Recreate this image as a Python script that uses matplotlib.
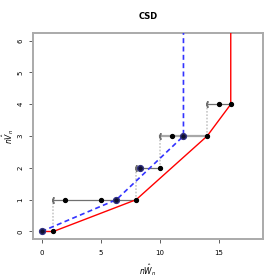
import matplotlib
matplotlib.use("Agg")
import matplotlib.pyplot as plt

# data
red_x = [0, 1, 8, 14, 16, 16]
red_y = [0, 0, 1, 3, 4, 10]
blue_x = [0, 6.33, 12, 12]
blue_y = [0, 1, 3, 10]
bar_y = [1, 2, 3, 4]
bar_lo = [1, 8, 10, 14]
bar_hi = [8, 10, 14, 16]
pts_x = [0, 1, 2, 5, 6.33, 8, 8.33, 10, 11, 12, 14, 15, 16]
pts_y = [0, 0, 1, 1, 1, 1, 2, 2, 3, 3, 3, 4, 4]
big_x = [0, 6.33, 8.33, 12]
big_y = [0, 1, 2, 3]
xticks = [0, 5, 10, 15]
yticks = [0, 1, 2, 3, 4, 5, 6]

fig = plt.figure(figsize=(2.8, 2.8), dpi=100)
ax = fig.add_axes([0.118, 0.146, 0.821, 0.736])

for yv, lo, hi in zip(bar_y, bar_lo, bar_hi):
    ax.plot([lo, lo], [yv - 1, yv], color="#c8c8c8", lw=1.2, ls=(0, (1, 1)), zorder=1)
    lw = 1.6 if yv == 3 else 0.9
    col = "#a8a8a8" if yv == 3 else "#707070"
    ax.plot([lo, hi], [yv, yv], color=col, lw=lw, zorder=2)
    ax.plot([lo], [yv], marker=r"$($", color="#707070", ms=4, zorder=2)

ax.plot(red_x, red_y, color="#ff0000", lw=1.0, zorder=3)
ax.plot(blue_x, blue_y, color="#3333ff", lw=1.2, ls=(0, (3, 2)), zorder=4)
ax.plot(pts_x, pts_y, "o", color="black", ms=2.8, zorder=5)
ax.plot(big_x, big_y, "o", color="#101030", mec="#303080", ms=4.2, zorder=6)

ax.set_xlim(-0.72, 18.72)
ax.set_ylim(-0.24, 6.24)
ax.set_xticks(xticks)
ax.set_yticks(yticks)
ax.tick_params(labelsize=5, length=3, width=0.6, color="#444444", pad=5)
ax.tick_params(axis="y", pad=4)
for lab in ax.get_yticklabels():
    lab.set_rotation(90)
    lab.set_va("center")
for s in ax.spines.values():
    s.set_color("#aaaaaa")
    s.set_linewidth(1.4)

ax.set_title("CSD", fontsize=6, fontweight="bold", pad=10)
ax.set_xlabel(r"$n\hat{W}_n$", fontsize=5.5, labelpad=4)
ax.set_ylabel(r"$n\hat{V}_n$", fontsize=5.5, labelpad=1)

fig.savefig("out.png", dpi=100)
